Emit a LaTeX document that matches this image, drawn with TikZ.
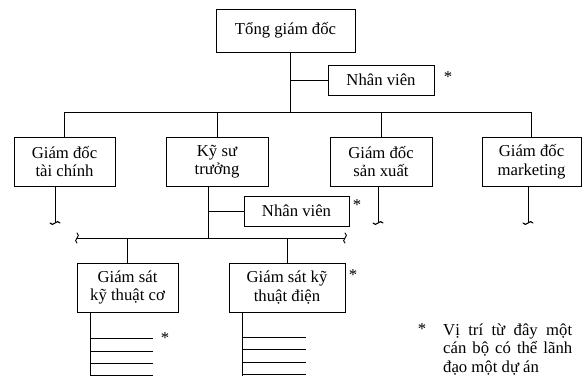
\documentclass[tikz,border=0pt]{standalone}
\usepackage{fontspec}
\setmainfont{Liberation Serif}
\begin{document}
\begin{tikzpicture}[x=1pt,y=-1pt,
  box/.style={draw,line width=1pt,inner sep=0pt,align=center,
    font=\fontsize{16.7}{18.5}\selectfont},
  ln/.style={line width=0.9pt},
  star/.style={inner sep=0pt,font=\fontsize{16.7}{18.5}\selectfont},
  txt/.style={inner sep=0pt,anchor=base west,font=\fontsize{16.7}{18.5}\selectfont}]
\useasboundingbox (0,0) rectangle (586,376);
% boxes
\node[box,minimum width=139pt,minimum height=43pt] (top) at (285.5,30.5) {Tổng giám đốc};
\node[box,minimum width=106pt,minimum height=30pt] (nv1) at (381,80) {Nhân viên};
\node[box,minimum width=101pt,minimum height=49pt] (tc) at (64.5,161.5) {Giám đốc\\tài chính};
\node[box,minimum width=102pt,minimum height=49pt] (ks) at (217,161.5) {Kỹ sư\\trưởng};
\node[box,minimum width=102pt,minimum height=49pt] (sx) at (381,161.5) {Giám đốc\\sản xuất};
\node[box,minimum width=99pt,minimum height=49pt] (mk) at (531.5,161.5) {Giám đốc\\marketing};
\node[box,minimum width=105pt,minimum height=30pt] (nv2) at (296.5,211) {Nhân viên};
\node[box,minimum width=101pt,minimum height=49pt] (co) at (127.5,287.5) {Giám sát\\kỹ thuật cơ};
\node[box,minimum width=116pt,minimum height=49pt] (dien) at (287,287.5) {Giám sát kỹ\\thuật điện};
% asterisks
\node[star] (s1) at (448,77) {*};
\node[star] (s2) at (357,205) {*};
\node[star] (s3) at (353,275) {*};
\node[star] (s4) at (165,338) {*};
\node[star] (s5) at (422,329) {*};
% footnote
\node[txt] (f1) at (443,335) {\makebox[129pt][s]{Vị trí từ đây một}};
\node[txt] (f2) at (443,353.5) {\makebox[129pt][s]{cán bộ có thể lãnh}};
\node[txt] (f3) at (443,372) {đạo một dự án};
% top connectors
\coordinate (b1) at (290,112);
\draw[ln] (top.south -| b1) -- (b1);
\draw[ln] (nv1.west) -- (nv1.west -| b1);
\draw[ln] (tc.north) -- (tc.north |- b1) -- (mk.north |- b1) -- (mk.north);
\draw[ln] (ks.north) -- (ks.north |- b1);
\draw[ln] (sx.north) -- (sx.north |- b1);
% broken ends
\coordinate (e1) at (55,223);
\coordinate (e2) at (378,223);
\coordinate (e3) at (528,223);
\foreach \n/\b in {e1/tc,e2/sx,e3/mk}{
  \draw[ln] (\b.south -| \n) -- (\n);
  \draw[line width=1.1pt,line cap=round] ([xshift=-5pt]\n) .. controls ([xshift=-2pt,yshift=-5pt]\n) and ([xshift=2pt,yshift=5pt]\n) .. ([xshift=5pt]\n);
}
% chief engineer
\coordinate (sb) at (208,238);
\coordinate (sbl) at (77,238);
\coordinate (sbr) at (345,238);
\draw[ln] (ks.south -| sb) -- (sb);
\draw[ln] (nv2.west) -- (nv2.west -| sb);
\draw[ln] (sbl) -- (sbr);
\foreach \n in {sbl,sbr}{
  \draw[line width=0.9pt,line cap=round] ([yshift=-5pt]\n) .. controls ([xshift=-5pt,yshift=-2pt]\n) and ([xshift=5pt,yshift=2pt]\n) .. ([yshift=5pt]\n);
}
\draw[ln] (co.north) -- (co.north |- sb);
\draw[ln] (dien.north) -- (dien.north |- sb);
% staff lines
\coordinate (c0) at (90,376);
\draw[ln] (co.south -| c0) -- (c0);
\foreach \y in {338,351,363,375}{\draw[ln] (90,\y) -- (153,\y);}
\coordinate (d0) at (242,376);
\draw[ln] (dien.south -| d0) -- (d0);
\foreach \y in {337,349,362,374}{\draw[ln] (242,\y) -- (306,\y);}
\end{tikzpicture}
\end{document}
